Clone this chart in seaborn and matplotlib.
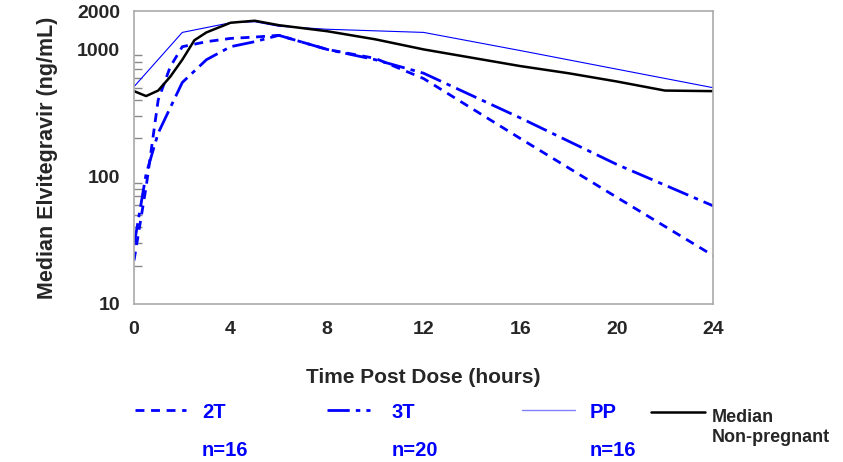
import pandas as pd
import seaborn as sns
import matplotlib.pyplot as plt
from matplotlib.lines import Line2D
from matplotlib.ticker import FixedLocator, NullFormatter

# median concentration-time profiles (ng/mL)
t_2t = [0, 0.5, 1, 1.5, 2, 3, 4, 5, 6, 8, 10, 12, 16, 20, 24]
c_2t = [22, 83, 400, 730, 1050, 1150, 1220, 1250, 1290, 1000, 850, 590, 200, 69, 24]

t_3t = [0, 0.5, 1, 2, 3, 4, 5, 6, 8, 10, 12, 16, 20, 24]
c_3t = [29, 105, 220, 550, 830, 1050, 1150, 1290, 1000, 830, 650, 290, 125, 59]

t_pp = [0, 2, 4, 5, 6, 8, 12, 16, 20, 24]
c_pp = [510, 1360, 1620, 1650, 1520, 1440, 1360, 980, 700, 500]

t_np = [0, 0.5, 1, 1.5, 2, 2.5, 3, 4, 5, 6, 8, 10, 12, 16, 18, 20, 22, 24]
c_np = [470, 430, 475, 610, 830, 1180, 1360, 1620, 1680, 1550, 1390, 1200, 1000, 740, 650, 560, 475, 470]

y_ticks = [10, 100, 1000, 2000]
x_ticks = [0, 4, 8, 12, 16, 20, 24]

legend_labels = ["2T", "3T", "PP"]
legend_n = ["n=16", "n=20", "n=16"]

BLUE = "#0000ff"

sns.set_style("white")
plt.rcParams["font.family"] = ["Liberation Sans", "DejaVu Sans"]
plt.rcParams["font.weight"] = "bold"

fig = plt.figure(figsize=(8.43, 4.62), dpi=100)
ax = fig.add_axes([0.159, 0.342, 0.687, 0.634])

sns.lineplot(x=t_2t, y=c_2t, ax=ax, color=BLUE, lw=2.0)
ax.lines[-1].set_dashes((3.2, 2.4))
sns.lineplot(x=t_3t, y=c_3t, ax=ax, color=BLUE, lw=2.0)
ax.lines[-1].set_dashes((8, 2.2, 1.6, 2.2))
sns.lineplot(x=t_pp, y=c_pp, ax=ax, color=BLUE, lw=0.8)
sns.lineplot(x=t_np, y=c_np, ax=ax, color="black", lw=1.8)

ax.set_yscale("log")
ax.set_ylim(10, 2000)
ax.set_xlim(0, 24)
ax.yaxis.set_major_locator(FixedLocator(y_ticks))
ax.set_yticklabels([str(v) for v in y_ticks])
ax.yaxis.set_minor_formatter(NullFormatter())
ax.set_xticks(x_ticks)
ax.set_xticklabels([str(v) for v in x_ticks])

for s in ax.spines.values():
    s.set_color("#aaaaaa")
    s.set_linewidth(1.2)
ax.tick_params(which="both", direction="in", color="#888888", labelsize=14)
ax.tick_params(which="major", length=8, width=1)
ax.tick_params(which="minor", length=6, width=1, left=True)
ax.tick_params(axis="x", pad=12)
ax.tick_params(axis="y", pad=10)
for lab in ax.get_xticklabels() + ax.get_yticklabels():
    lab.set_fontweight("bold")

ax.set_xlabel("Time Post Dose (hours)", fontsize=15, fontweight="bold", labelpad=22)
ax.set_ylabel("Median Elvitegravir (ng/mL)", fontsize=15.5, fontweight="bold", labelpad=14)

# custom legend row under the axes
W, H = 843, 462
samples = [
    dict(x0=135, x1=186, dashes=(3.2, 2.4), lw=2.0, color=BLUE),
    dict(x0=327, x1=370, dashes=(8, 2.2, 1.6, 2.2), lw=2.0, color=BLUE),
    dict(x0=522, x1=575, dashes=None, lw=1.0, color="#8080ff"),
]
text_x = [202, 392, 590]
for s, lbl, n, tx in zip(samples, legend_labels, legend_n, text_x):
    ln = Line2D([s["x0"] / W, s["x1"] / W], [1 - 410 / H] * 2, color=s["color"],
                lw=s["lw"], transform=fig.transFigure)
    if s["dashes"]:
        ln.set_dashes(s["dashes"])
    fig.add_artist(ln)
    fig.text(tx / W, 1 - 412 / H, lbl, color=BLUE, fontsize=14.5, fontweight="bold", va="center")
    fig.text(tx / W, 1 - 450 / H, n, color=BLUE, fontsize=14.5, fontweight="bold", va="center")

fig.add_artist(Line2D([651 / W, 705 / W], [1 - 412 / H] * 2, color="black", lw=1.8,
                      transform=fig.transFigure))
fig.text(712 / W, 1 - 418 / H, "Median", fontsize=13, fontweight="bold", va="center")
fig.text(712 / W, 1 - 438 / H, "Non-pregnant", fontsize=13, fontweight="bold", va="center")

fig.savefig("out.png", dpi=100)
